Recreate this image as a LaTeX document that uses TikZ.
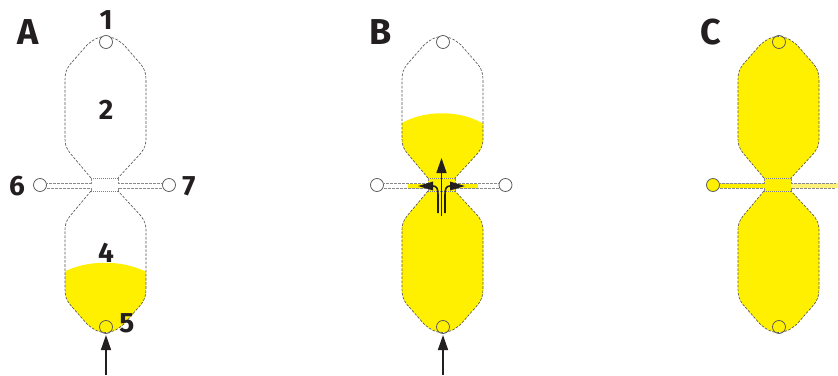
\documentclass[tikz,border=0pt]{standalone}
\usepackage{fontspec}
\setmainfont{Fira Sans}
\usetikzlibrary{arrows.meta}
\definecolor{chipyellow}{HTML}{FFF000}
\definecolor{paleyellow}{HTML}{FFF27A}
\definecolor{edgegrey}{HTML}{555555}
\definecolor{channelgrey}{HTML}{8A8A8A}
\definecolor{neckgrey}{HTML}{808080}
\definecolor{inkblack}{HTML}{231F20}
\newcommand{\upperwall}{(91,178) -- (70,153) .. controls (66.5,148) and (65,145) .. (65,139) -- (65,80) .. controls (65,73) and (66.5,69) .. (70,64.5) -- (87,45) .. controls (94,39) and (99,36.5) .. (105.5,36.5) .. controls (112,36.5) and (117,39) .. (124,45) -- (141,64.5) .. controls (144.5,69) and (146,73) .. (146,80) -- (146,139) .. controls (146,145) and (144.5,148) .. (141,153) -- (118,178)}
\newcommand{\lowerwall}{(91,191) -- (70,216) .. controls (66.5,221) and (65,224) .. (65,230) -- (65,289) .. controls (65,296) and (66.5,300) .. (70,304.5) -- (87,324) .. controls (94,330) and (99,332.5) .. (105.5,332.5) .. controls (112,332.5) and (117,330) .. (124,324) -- (141,304.5) .. controls (144.5,300) and (146,296) .. (146,289) -- (146,230) .. controls (146,224) and (144.5,221) .. (141,216) -- (118,191)}
\newcommand{\chamber}[1]{%
  \draw[wall] \upperwall;
  \draw[wall] \lowerwall;
  \draw[neckline] (91,178) -- (118,178);
  \draw[neckline] (91,191) -- (118,191);
  \draw[channel] (91,178) -- (91,183) -- (46.5,183);
  \draw[channel] (91,191) -- (91,188) -- (46.5,188);
  \draw[channel] (118,178) -- (118,183) -- (162.5,183);
  \draw[channel] (118,191) -- (118,188) -- (162.5,188);
}
\tikzset{
  wall/.style={draw=edgegrey,line width=0.65pt,dash pattern=on 2.6pt off 1.5pt},
  channel/.style={draw=channelgrey,line width=0.85pt,dash pattern=on 3pt off 1pt},
  neckline/.style={draw=neckgrey,line width=0.45pt,dash pattern=on 1pt off 1pt},
  port/.style={circle,draw=edgegrey,line width=0.75pt,minimum size=13pt,inner sep=0pt,outer sep=0pt,fill=white},
  yport/.style={port,fill=chipyellow},
  inflow/.style={draw=inkblack,line width=1.6pt,-{Triangle[length=15pt,width=10pt]}},
  sideflow/.style={draw=inkblack,line width=1.6pt,-{Triangle[length=15pt,width=8.5pt]}},
  num/.style={font=\fontsize{28}{28}\selectfont\bfseries,text=inkblack,inner sep=0pt},
  panel/.style={font=\fontsize{36}{36}\selectfont\bfseries,text=inkblack,inner sep=0pt},
}
\begin{document}
\begin{tikzpicture}[x=1pt,y=-1pt]
\useasboundingbox (0,0) rectangle (838,375);
% Panel A
\begin{scope}
  \begin{scope}
    \clip \lowerwall -- cycle;
    \fill[chipyellow] (60,274) .. controls (85,259) and (125,259) .. (150,274) -- (150,340) -- (60,340) -- cycle;
  \end{scope}
  \chamber{a}
  \node[port] (a1) at (106,42) {};
  \node[port,fill=none] (a5) at (106,327) {};
  \node[port] (a6) at (40,185) {};
  \node[port] (a7) at (169,185) {};
  \coordinate (afree) at (106,375);
  \draw[inflow,shorten >=1.5pt] (afree) -- (a5);
\end{scope}
\node[panel] (la) at (28,32) {A};
\node[num] (n1) at (106,20) {1};
\node[num] (n2) at (106,110) {2};
\node[num] (n4) at (106,253) {4};
\node[num] (n5) at (127,323) {5};
\node[num] (n6) at (17,186) {6};
\node[num] (n7) at (189,186) {7};
% Panel B
\begin{scope}[shift={(337,0)}]
  \fill[chipyellow] \lowerwall -- cycle;
  \fill[chipyellow] (91,178) rectangle (118,191);
  \fill[chipyellow] (71,183.5) rectangle (141,188.5);
  \begin{scope}
    \clip \upperwall -- cycle;
    \fill[chipyellow] (60,126) .. controls (85,109) and (125,109) .. (150,126) -- (150,180) -- (60,180) -- cycle;
  \end{scope}
  \chamber{b}
  \node[port] (b1) at (106,42) {};
  \node[port,fill=none] (b5) at (106,327) {};
  \node[port] (b6) at (40,185) {};
  \node[port] (b7) at (168.5,185) {};
  \coordinate (bfree) at (106,375);
  \draw[inflow,shorten >=1.5pt] (bfree) -- (b5);
  \coordinate (bup0) at (104.5,216);
  \coordinate (bup1) at (104.5,158);
  \coordinate (bl0) at (101,213);
  \coordinate (bl1) at (81,186);
  \coordinate (br0) at (108,213);
  \coordinate (br1) at (128,186);
  \draw[inflow] (bup0) -- (bup1);
  \draw[sideflow] (bl0) -- (101,195) .. controls (101,189) and (100,186) .. (96,186) -- (bl1);
  \draw[sideflow] (br0) -- (108,195) .. controls (108,189) and (109,186) .. (113,186) -- (br1);
\end{scope}
\node[panel] (lb) at (381,32) {B};
% Panel C
\begin{scope}[shift={(673,0)}]
  \fill[chipyellow] \lowerwall -- cycle;
  \fill[chipyellow] \upperwall -- cycle;
  \fill[chipyellow] (91,178) rectangle (118,191);
  \fill[chipyellow] (46,183) rectangle (91,188);
  \fill[paleyellow] (118,183) rectangle (166,188);
  \chamber{c}
  \node[port,fill=none] (c1) at (106,42) {};
  \node[port,fill=none] (c5) at (106,327) {};
  \node[yport] (c6) at (40,185) {};
\end{scope}
\node[panel] (lc) at (711,32) {C};
\end{tikzpicture}
\end{document}
